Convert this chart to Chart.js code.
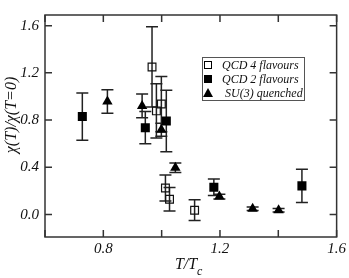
<!DOCTYPE html>
<html>
<head>
<meta charset="utf-8">
<script src="https://cdn.jsdelivr.net/npm/chart.js@4.4.0/dist/chart.umd.min.js"></script>
<style>
  html, body { margin: 0; padding: 0; background: #fff; }
  #wrap { width: 349px; height: 278px; position: relative; }
</style>
</head>
<body>
<div id="wrap"><canvas id="chart"></canvas></div>
<script>
// QCD 4 flavours (open squares)
const q4T   = [0.967, 0.982, 0.999, 1.013, 1.027, 1.113];
const q4Chi = [1.25, 0.878, 0.936, 0.225, 0.13, 0.037];
const q4Err = [0.34, 0.23, 0.234, 0.11, 0.10, 0.088];

// QCD 2 flavours (filled squares)
const q2T   = [0.728, 0.944, 1.016, 1.179, 1.481];
const q2Chi = [0.83, 0.736, 0.792, 0.232, 0.243];
const q2Err = [0.20, 0.136, 0.26, 0.07, 0.14];

// SU(3) quenched (filled triangles)
const suT   = [0.814, 0.933, 0.999, 1.047, 1.198, 1.312, 1.401];
const suChi = [0.957, 0.92, 0.718, 0.397, 0.152, 0.05, 0.037];
const suErr = [0.10, 0.10, 0.055, 0.04, 0.02, 0.015, 0.015];

const seriesNames = ["QCD 4 flavours", "QCD 2 flavours", "SU(3) quenched"];

const xTicks = [0.6, 0.8, 1.0, 1.2, 1.4, 1.6];
const xLabels = [0.8, 1.2, 1.6];
const yTicks = [0.0, 0.4, 0.8, 1.2, 1.6];

const axisColor = "#333";
const serif = "'Liberation Serif', 'DejaVu Serif', serif";

function points(xs, ys, errs) {
    return xs.map((x, i) => ({ x: x, y: ys[i], err: errs[i] }));
}

// Error bars, drawn behind markers
const errorBars = {
    id: "errorBars",
    beforeDatasetsDraw(chart) {
        const ctx = chart.ctx;
        const xs = chart.scales.x, ys = chart.scales.y;
        ctx.save();
        ctx.strokeStyle = "#222";
        ctx.lineWidth = 1.5;
        chart.data.datasets.forEach((ds) => {
            ds.data.forEach((p) => {
                const px = xs.getPixelForValue(p.x);
                const top = ys.getPixelForValue(p.y + p.err);
                const bot = ys.getPixelForValue(p.y - p.err);
                const cap = 6;
                ctx.beginPath();
                ctx.moveTo(px, top); ctx.lineTo(px, bot);
                ctx.moveTo(px - cap, top); ctx.lineTo(px + cap, top);
                ctx.moveTo(px - cap, bot); ctx.lineTo(px + cap, bot);
                ctx.stroke();
            });
        });
        ctx.restore();
    }
};

// Frame, inward ticks, axis titles and legend box
const frame = {
    id: "frame",
    afterDraw(chart) {
        const ctx = chart.ctx;
        const a = chart.chartArea;
        const xs = chart.scales.x, ys = chart.scales.y;
        const tl = 7;
        ctx.save();
        ctx.strokeStyle = axisColor;
        ctx.lineWidth = 1.5;
        ctx.strokeRect(a.left, a.top, a.right - a.left, a.bottom - a.top);
        ctx.beginPath();
        xTicks.forEach((v) => {
            const px = xs.getPixelForValue(v);
            ctx.moveTo(px, a.bottom); ctx.lineTo(px, a.bottom - tl);
            ctx.moveTo(px, a.top); ctx.lineTo(px, a.top + tl);
        });
        yTicks.forEach((v) => {
            const py = ys.getPixelForValue(v);
            ctx.moveTo(a.left, py); ctx.lineTo(a.left + tl, py);
            ctx.moveTo(a.right, py); ctx.lineTo(a.right - tl, py);
        });
        ctx.stroke();

        // x title: T/T_c
        ctx.fillStyle = "#111";
        ctx.textBaseline = "alphabetic";
        ctx.textAlign = "left";
        ctx.font = "italic 16px " + serif;
        const main = "T/T";
        const w = ctx.measureText(main).width;
        const tx = 186 - w / 2;
        ctx.fillText(main, tx, 269);
        ctx.font = "italic 12px " + serif;
        ctx.fillText("c", tx + w, 275);

        // y title
        ctx.save();
        ctx.translate(16, 115);
        ctx.rotate(-Math.PI / 2);
        ctx.textAlign = "center";
        ctx.font = "italic 16px " + serif;
        ctx.fillText("\u03C7(T)/\u03C7(T=0)", 0, 0);
        ctx.restore();

        // legend
        ctx.lineWidth = 1;
        ctx.strokeStyle = "#555";
        ctx.strokeRect(202.5, 57.5, 102, 43);
        ctx.font = "italic 12px " + serif;
        ctx.textAlign = "left";
        ctx.textBaseline = "middle";
        const rows = [65, 79, 93];
        chart.data.datasets.forEach((ds, i) => {
            const cy = rows[i], cx = 208;
            ctx.fillStyle = "#000";
            ctx.strokeStyle = "#000";
            if (i === 0) {
                ctx.lineWidth = 1;
                ctx.strokeRect(cx - 3.5, cy - 3.5, 7, 7);
            } else if (i === 1) {
                ctx.fillRect(cx - 4, cy - 4, 8, 8);
            } else {
                ctx.beginPath();
                ctx.moveTo(cx, cy - 5); ctx.lineTo(cx + 5, cy + 4); ctx.lineTo(cx - 5, cy + 4);
                ctx.closePath(); ctx.fill();
            }
            ctx.fillStyle = "#111";
            ctx.fillText(ds.label, i === 2 ? 225 : 222, cy + 1);
        });
        ctx.restore();
    }
};

const ctx = document.getElementById("chart").getContext("2d");
new Chart(ctx, {
    type: "scatter",
    data: {
        datasets: [
            {
                label: seriesNames[0],
                data: points(q4T, q4Chi, q4Err),
                pointStyle: "rect",
                pointRadius: 5.5,
                borderWidth: 1.2,
                borderColor: "#111",
                backgroundColor: "rgba(0,0,0,0)"
            },
            {
                label: seriesNames[1],
                data: points(q2T, q2Chi, q2Err),
                pointStyle: "rect",
                pointRadius: 6.4,
                borderWidth: 0,
                borderColor: "#000",
                backgroundColor: "#000"
            },
            {
                label: seriesNames[2],
                data: points(suT, suChi, suErr),
                pointStyle: "triangle",
                pointRadius: 6,
                borderWidth: 0,
                borderColor: "#000",
                backgroundColor: "#000"
            }
        ]
    },
    options: {
        responsive: true,
        maintainAspectRatio: false,
        animation: false,
        layout: { padding: { top: 2, right: 11, left: 0, bottom: 0 } },
        plugins: {
            legend: { display: false },
            tooltip: { enabled: false }
        },
        scales: {
            x: {
                type: "linear",
                min: 0.6,
                max: 1.6,
                afterBuildTicks: (s) => { s.ticks = xTicks.map((v) => ({ value: v })); },
                afterFit: (s) => { s.height = 41; },
                grid: { display: false, drawTicks: false },
                border: { display: false },
                ticks: {
                    autoSkip: false,
                    maxRotation: 0,
                    padding: 3,
                    color: "#111",
                    font: { family: serif, size: 15, style: "italic" },
                    callback: (v) => xLabels.some((l) => Math.abs(l - v) < 1e-6) ? Number(v).toFixed(1) : ""
                }
            },
            y: {
                type: "linear",
                min: -0.19,
                max: 1.69,
                afterBuildTicks: (s) => { s.ticks = yTicks.map((v) => ({ value: v })); },
                afterFit: (s) => { s.width = 45; },
                grid: { display: false, drawTicks: false },
                border: { display: false },
                ticks: {
                    autoSkip: false,
                    padding: 6,
                    color: "#111",
                    font: { family: serif, size: 15, style: "italic" },
                    callback: (v) => Number(v).toFixed(1)
                }
            }
        }
    },
    plugins: [errorBars, frame]
});
</script>
</body>
</html>
